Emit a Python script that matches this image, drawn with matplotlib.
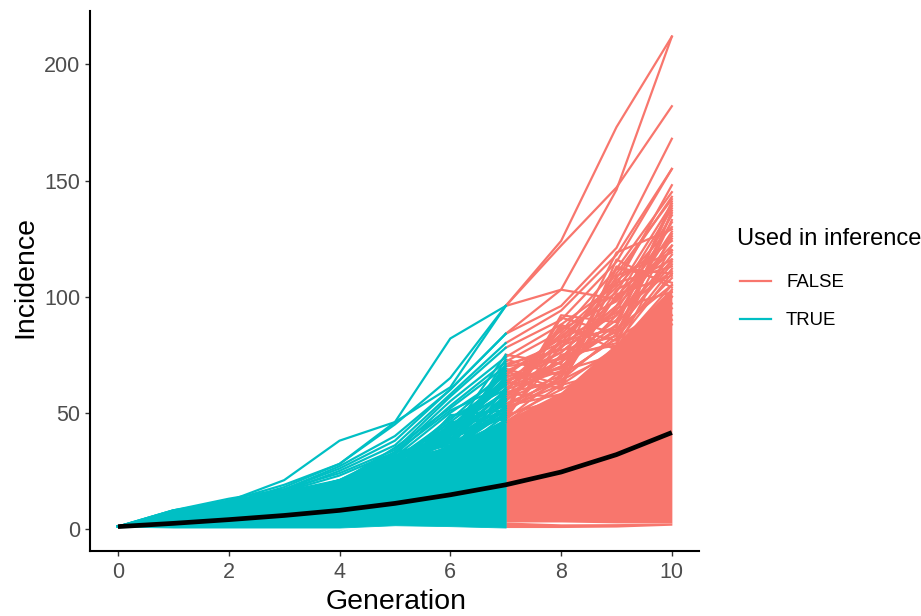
import matplotlib
matplotlib.use("Agg")
import matplotlib.pyplot as plt

plt.rcParams['font.family'] = ['Liberation Sans', 'DejaVu Sans']

TEAL = '#00BFC4'
RED = '#F8766D'

generation = [0, 1, 2, 3, 4, 5, 6, 7, 8, 9, 10]
split_generation = 7
mean_incidence = [1, 2.4, 4, 5.8, 8, 11, 14.7, 19, 24.5, 32, 41.5]

# Solid mass of overlapping runs, read as its lower and upper edge.
core_low = [1, 0.6, 0.6, 0.6, 0.6, 1.6, 1.2, 0.6, 0.6, 0.8, 1.6]
core_high = [1, 8.3, 12.5, 16.5, 21, 28, 36, 47, 59, 80, 104]
# Thin pale gap near the floor of the red part (generations 7 to 10).
floor_band_top = [3, 2.2, 2.3, 2.6]
core_floor = [3, 3.0, 2.6, 2.6]

# Individually visible runs.
visible_runs = [
    [1, 7, 12, 21, 38, 46, 61, 96, 124, 173, 212],
    [1, 8, 12, 19, 28, 46, 82, 96, 122, 147, 182],
    [1, 6, 11, 18, 28, 45, 65, 96, 103, 146, 212],
    [1, 7, 10, 17, 27, 40, 60, 84, 103, 99, 120],
    [1, 6, 11, 17, 26, 38, 60, 84, 96, 121, 168],
    [1, 5, 10, 16, 25, 36, 58, 80, 94, 118, 155],
    [1, 8, 13, 17, 24, 34, 57, 78, 90, 115, 155],
    [1, 7, 12, 16, 23, 33, 55, 74, 88, 105, 148],
    [1, 6, 11, 16, 21, 32, 53, 72, 85, 112, 145],
    [1, 7, 11, 16, 20, 35, 52, 70, 80, 108, 143],
    [1, 5, 10, 15, 21, 31, 50, 66, 83, 102, 140],
    [1, 6, 10, 15, 20, 30, 47, 68, 78, 99, 138],
    [1, 7, 9, 14, 20, 31, 44, 65, 76, 96, 135],
    [1, 4, 9, 14, 19, 29, 43, 64, 74, 94, 132],
    [1, 6, 12, 15, 19, 28, 48, 60, 80, 92, 128],
    [1, 5, 8, 14, 20, 30, 42, 62, 72, 90, 125],
    [1, 6, 10, 13, 18, 27, 41, 63, 76, 96, 120],
    [1, 8, 11, 14, 19, 26, 45, 58, 70, 88, 118],
    [1, 5, 9, 13, 18, 27, 38, 57, 72, 85, 116],
    [1, 4, 8, 13, 17, 28, 37, 60, 68, 92, 115],
    [1, 6, 10, 14, 18, 25, 40, 56, 66, 82, 112],
    [1, 5, 9, 12, 17, 24, 35, 55, 74, 80, 110],
    [1, 7, 11, 13, 16, 26, 38, 54, 64, 84, 108],
    [1, 4, 8, 12, 15, 25, 36, 52, 62, 78, 105],
    [1, 5, 7, 12, 16, 23, 34, 50, 68, 75, 103],
    [1, 6, 9, 11, 15, 24, 39, 48, 60, 72, 100],
    [1, 3, 7, 12, 14, 22, 33, 47, 66, 82, 97],
    [1, 5, 8, 11, 15, 26, 32, 53, 58, 70, 95],
    [1, 4, 9, 12, 14, 21, 35, 51, 64, 76, 92],
    [1, 6, 8, 10, 13, 23, 31, 49, 56, 78, 90],
    [1, 3, 6, 11, 14, 20, 30, 46, 62, 68, 100],
    [1, 5, 7, 12, 13, 25, 34, 58, 57, 74, 88],
    [1, 4, 8, 10, 12, 22, 29, 61, 70, 86, 105],
    [1, 6, 10, 13, 15, 29, 43, 67, 82, 104, 130],
    [1, 5, 9, 14, 18, 31, 40, 59, 86, 98, 122],
    [1, 7, 12, 15, 20, 29, 46, 64, 69, 100, 126],
    [1, 4, 9, 13, 17, 26, 42, 55, 78, 110, 142],
    [1, 6, 11, 14, 21, 33, 51, 62, 84, 106, 113],
    [1, 6, 10, 14, 19, 30, 37, 66, 67, 112, 110],
    [1, 5, 11, 13, 18, 25, 44, 50, 91, 84, 136],
    [1, 7, 9, 15, 17, 29, 35, 73, 66, 103, 116],
    [1, 4, 10, 13, 19, 24, 41, 48, 79, 87, 141],
    [1, 6, 12, 12, 18, 27, 38, 69, 62, 113, 106],
    [1, 5, 8, 14, 16, 30, 39, 52, 87, 81, 127],
    [1, 6, 9, 13, 20, 26, 43, 59, 63, 101, 109],
    [1, 7, 10, 11, 17, 31, 36, 71, 77, 83, 133],
    [1, 4, 11, 15, 15, 28, 46, 47, 82, 93, 111],
    [1, 5, 10, 13, 20, 23, 40, 68, 60, 116, 104],
    [1, 6, 8, 14, 16, 32, 33, 56, 88, 77, 122],
    [1, 7, 12, 14, 21, 25, 44, 63, 61, 109, 119],
    [1, 5, 9, 15, 14, 29, 39, 49, 75, 79, 137],
    [1, 4, 11, 12, 19, 28, 34, 70, 73, 95, 102],
    [1, 6, 10, 15, 16, 26, 45, 53, 65, 107, 124],
    [1, 5, 8, 13, 18, 33, 38, 60, 81, 86, 114],
    [1, 7, 9, 14, 17, 27, 41, 75, 71, 119, 129],
    [1, 4, 12, 14, 20, 22, 49, 51, 92, 89, 139],
]

fig = plt.figure(figsize=(9.21, 6.16), dpi=100)
ax = fig.add_axes([90 / 921, 65 / 616, 609 / 921, 540 / 616])

LW = 1.6
pre = generation[:split_generation + 1]
post = generation[split_generation:]

ax.fill_between(post, core_low[split_generation:], floor_band_top, color=RED, lw=0)
ax.fill_between(post, core_floor, core_high[split_generation:], color=RED, lw=0)
ax.fill_between(pre, core_low[:split_generation + 1], core_high[:split_generation + 1],
                color=TEAL, lw=0.6)
for run in visible_runs:
    line_false, = ax.plot(post, run[split_generation:], color=RED, lw=LW,
                          solid_joinstyle='round')
for run in visible_runs:
    line_true, = ax.plot(pre, run[:split_generation + 1], color=TEAL, lw=LW,
                         solid_joinstyle='round')
ax.plot(generation, mean_incidence, color='black', lw=3.4, solid_capstyle='butt')

ax.set_xlim(-0.505, 10.49)
ax.set_ylim(-9.5, 223)
ax.set_xticks([0, 2, 4, 6, 8, 10])
ax.set_yticks([0, 50, 100, 150, 200])
ax.tick_params(axis='both', labelsize=15.5, labelcolor='#4D4D4D', color='#333333',
               length=3.5, width=1.0)
ax.tick_params(axis='x', pad=4.5)
ax.tick_params(axis='y', pad=3.3)
ax.spines['top'].set_visible(False)
ax.spines['right'].set_visible(False)
ax.spines['left'].set_linewidth(1.5)
ax.spines['bottom'].set_linewidth(1.5)
ax.set_xlabel('Generation', fontsize=20.5, labelpad=4, x=0.502)
ax.set_ylabel('Incidence', fontsize=20.5, labelpad=4.5, y=0.507)

leg = ax.legend([line_false, line_true], ['FALSE', 'TRUE'], title='Used in inference',
                frameon=False, fontsize=13.4, title_fontsize=17,
                loc='upper left', bbox_to_anchor=(737 / 921, (616 - 228) / 616),
                bbox_transform=fig.transFigure, borderaxespad=0, borderpad=0,
                labelspacing=1.13, handlelength=1.67, handletextpad=0.8)
leg._legend_box.align = 'left'
leg._legend_handle_box.pad = 2.2

fig.savefig('out.png', dpi=100)
